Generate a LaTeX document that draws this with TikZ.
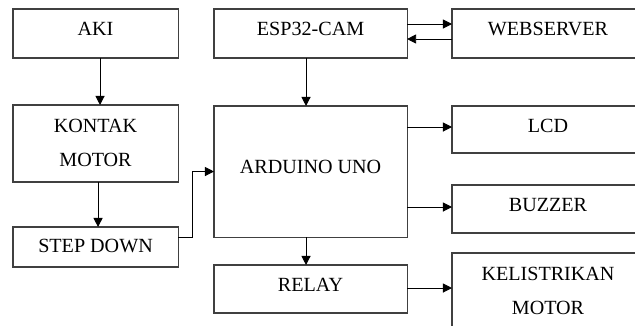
\documentclass[tikz,border=0pt]{standalone}
\usepackage{fontspec}
\setmainfont{Liberation Serif}
\usetikzlibrary{arrows.meta, calc}
\begin{document}
\begin{tikzpicture} [x=0.025cm, y=-0.025cm,
    >={Triangle[length=6.5pt,width=6.5pt]},
    el/.style = {line width=0.65pt},
    ]
        \tikzset{BlokStyle/.style = {draw=black!75, line width=0.75pt, anchor=north west, inner sep=0, outer sep=0, font=\fontsize{14.3}{24.2}\selectfont}}
        \tikzset{kiri/.style = {BlokStyle, minimum width=4.125cm}}
        \tikzset{tengah/.style = {BlokStyle, minimum width=4.825cm}}
        \tikzset{kanan/.style = {BlokStyle, minimum width=4.8cm}}
    \useasboundingbox (0,0) rectangle (635,325);
    \clip (0,0) rectangle (635,325);
    \node[kiri, text height=18.49pt, text depth=16.36pt] at (13,9) (aki) {AKI};
    \node[kiri, text height=19.2pt, text depth=35.57pt] at (13,105) (kontak) {\begin{tabular}[t]{@{}c@{}}KONTAK\\MOTOR\end{tabular}};
    \node[kiri, text height=17.78pt, text depth=10.67pt] at (13,227) (step) {STEP DOWN};
    \node[tengah, text height=18.49pt, text depth=16.36pt] at (214,9) (esp) {ESP32-CAM};
    \node[tengah, text height=47.66pt, text depth=45.52pt] at (214,106) (ard) {ARDUINO UNO};
    \node[tengah, text height=18.49pt, text depth=15.65pt] at (214,265) (relay) {RELAY};
    \node[kanan, text height=18.49pt, text depth=16.36pt] at (452,9) (web) {WEBSERVER};
    \node[kanan, text height=18.49pt, text depth=14.94pt] at (452,106) (lcd) {LCD};
    \node[kanan, text height=18.49pt, text depth=15.65pt] at (452,185) (buzzer) {BUZZER};
    \node[kanan, text height=19.2pt, text depth=42.68pt] at (452,253) (kel) {\begin{tabular}[t]{@{}c@{}}KELISTRIKAN\\MOTOR\end{tabular}};

\path[->, el]
    ([xshift=3.2pt]aki.south) edge ([xshift=3.2pt]kontak.north)
    ([xshift=1.8pt]kontak.south) edge ([xshift=1.8pt]step.north)
    ([xshift=-3.2pt]esp.south) edge ([xshift=-3.2pt]ard.north)
    ([xshift=-3.2pt]ard.south) edge ([xshift=-3.2pt]relay.north)
    ($(esp.east)+(0,-9.5)$) edge ($(web.west)+(0,-9.5)$)
    ($(web.west)+(0,5.5)$) edge ($(esp.east)+(0,5.5)$)
    ($(ard.east |- lcd.west)+(0,-2.5)$) edge ($(lcd.west)+(0,-2.5)$)
    ($(ard.east |- buzzer.west)+(0,-2)$) edge ($(buzzer.west)+(0,-2)$)
    ($(relay.east)+(0,-1)$) edge ($(relay.east -| kel.west)+(0,-1)$);
\draw[->, el] ($(step.east)+(0,-10)$) -- ++(14,0) |- (ard.west);

\end{tikzpicture}
\end{document}
